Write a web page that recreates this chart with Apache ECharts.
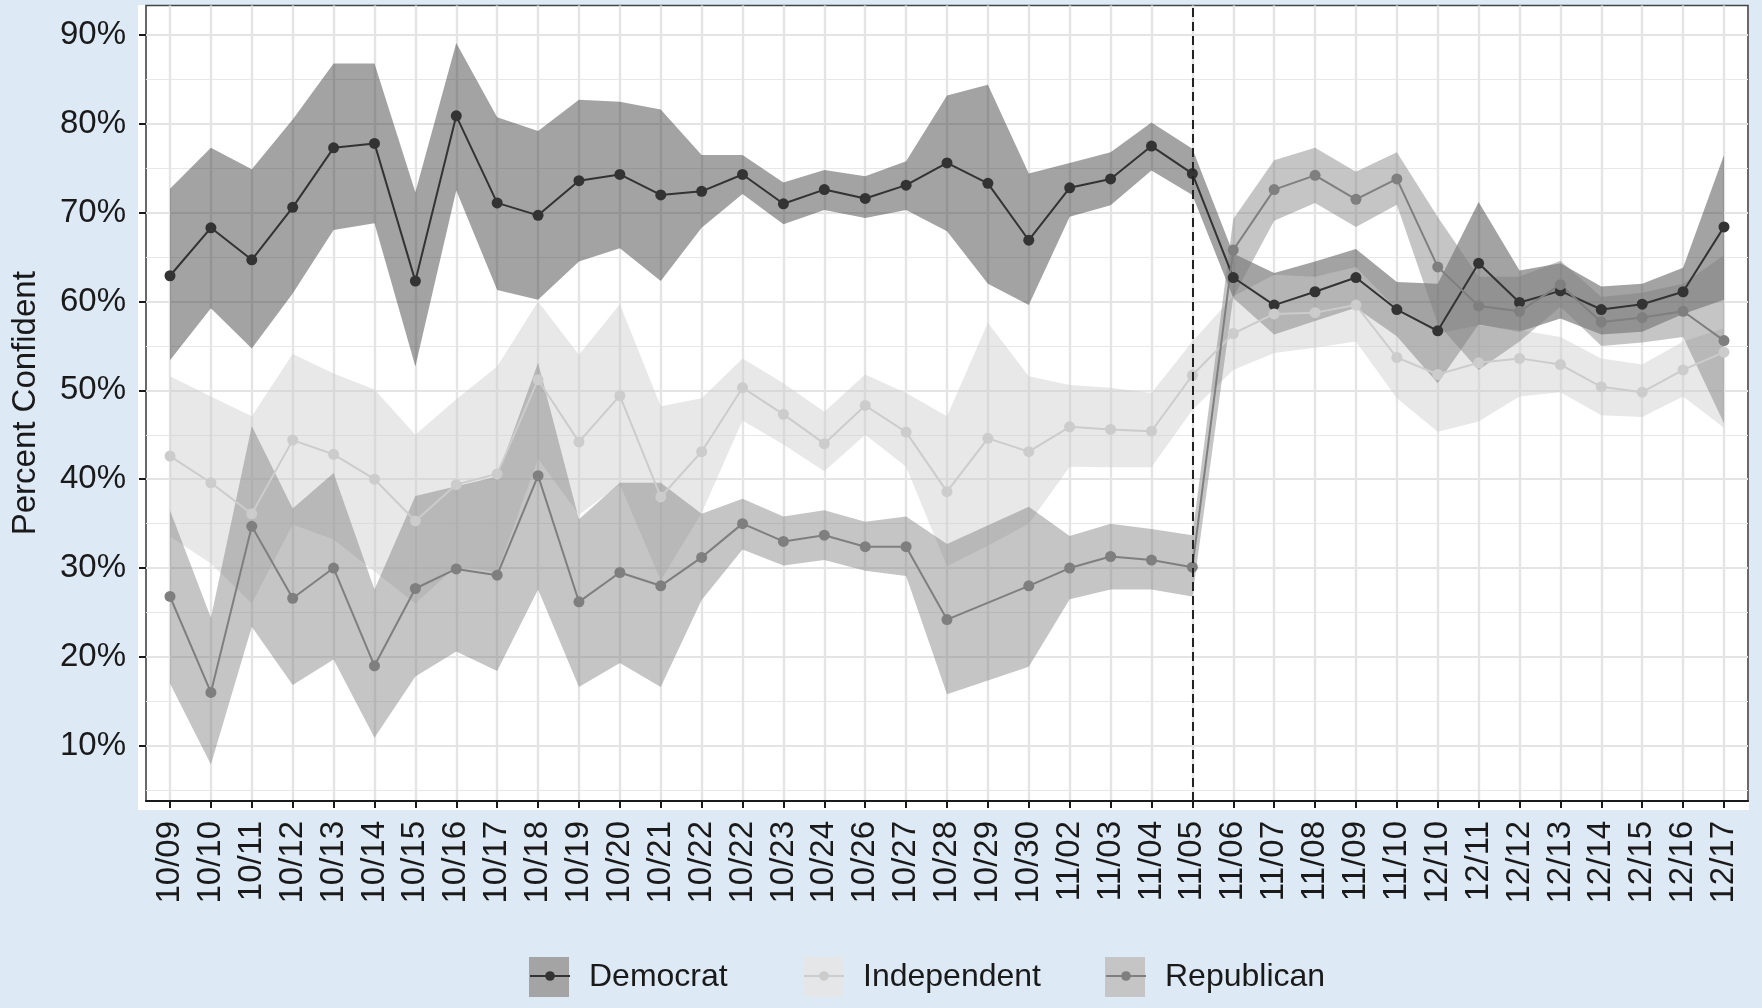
<!DOCTYPE html>
<html>
<head>
<meta charset="utf-8">
<script src="https://cdn.jsdelivr.net/npm/echarts@6/dist/echarts.min.js"></script>
<style>
  html, body { margin: 0; padding: 0; background: #dde9f5; }
  #chart { width: 1762px; height: 1008px; }
</style>
</head>
<body>
<div id="chart"></div>
<script>
// ---------------- data ----------------
const categories = ['10/09','10/10','10/11','10/12','10/13','10/14','10/15','10/16','10/17','10/18',
  '10/19','10/20','10/21','10/22','10/22','10/23','10/24','10/26','10/27','10/28',
  '10/29','10/30','11/02','11/03','11/04','11/05','11/06','11/07','11/08','11/09',
  '11/10','12/10','12/11','12/12','12/13','12/14','12/15','12/16','12/17'];

const democrat = [62.9, 68.3, 64.7, 70.6, 77.3, 77.8, 62.3, 80.9, 71.1, 69.7,
  73.6, 74.3, 72.0, 72.4, 74.3, 71.0, 72.6, 71.6, 73.1, 75.6,
  73.3, 66.9, 72.8, 73.8, 77.5, 74.4, 62.7, 59.6, 61.1, 62.7,
  59.1, 56.7, 64.3, 59.9, 61.2, 59.1, 59.7, 61.1, 68.4];
const democratHigh = [72.7, 77.3, 74.9, 80.5, 86.8, 86.8, 72.3, 89.1, 80.75, 79.2,
  82.7, 82.5, 81.6, 76.5, 76.5, 73.4, 74.8, 74.1, 75.8, 83.2,
  84.4, 74.4, 75.6, 76.8, 80.15, 77.2, 65.4, 63.2, 64.5, 65.9,
  62.2, 62.0, 71.2, 63.5, 64.3, 61.7, 62.0, 63.8, 76.5];
const democratLow = [53.4, 59.25, 54.7, 60.9, 68.05, 68.8, 52.7, 72.5, 61.3, 60.2,
  64.5, 66.0, 62.3, 68.3, 72.1, 68.7, 70.3, 69.4, 70.3, 67.9,
  62.0, 59.6, 69.55, 70.85, 74.75, 72.0, 60.4, 56.3, 57.8, 59.3,
  56.1, 50.8, 57.4, 56.6, 58.1, 56.3, 56.6, 58.6, 60.2];

const independent = [42.6, 39.6, 36.1, 44.4, 42.8, 40.0, 35.3, 39.4, 40.6, 51.2,
  44.2, 49.4, 38.0, 43.1, 50.3, 47.3, 44.0, 48.3, 45.3, 38.6,
  44.6, 43.1, 45.9, 45.6, 45.4, 51.7, 56.4, 58.6, 58.75, 59.6,
  53.7, 51.8, 53.1, 53.6, 52.9, 50.4, 49.8, 52.3, 54.3];
const independentHigh = [51.6, 49.3, 47.1, 54.1, 51.9, 50.1, 45.0, 49.0, 52.7, 60.0,
  54.0, 59.7, 48.2, 49.1, 53.6, 50.8, 47.6, 51.8, 49.7, 47.1,
  57.6, 51.6, 50.6, 50.3, 49.7, 55.5, 60.6, 63.0, 62.8, 63.9,
  59.1, 56.4, 57.3, 56.8, 56.0, 53.6, 52.9, 55.5, 57.0];
const independentLow = [33.55, 30.5, 26.0, 34.9, 33.2, 29.6, 26.0, 30.2, 29.5, 42.3,
  36.0, 39.4, 28.6, 36.2, 46.6, 43.9, 40.9, 45.0, 41.4, 30.2,
  32.5, 35.0, 41.4, 41.35, 41.35, 47.8, 52.3, 54.2, 54.8, 55.5,
  49.1, 45.35, 46.5, 49.3, 49.8, 47.2, 47.0, 49.3, 45.8];

const republican = [26.8, 16.0, 34.7, 26.6, 30.0, 19.0, 27.7, 29.9, 29.2, 40.4,
  26.2, 29.5, 28.0, 31.2, 35.0, 33.0, 33.7, 32.4, 32.4, 24.2,
  null, 28.0, 30.0, 31.3, 30.9, 30.1, 65.8, 72.6, 74.2, 71.5,
  73.8, 63.9, 59.5, 58.9, 61.9, 57.7, 58.2, 58.9, 55.6];
const republicanHigh = [36.5, 24.4, 46.0, 36.7, 40.7, 27.6, 38.1, 39.2, 40.3, 53.1,
  35.5, 39.6, 39.6, 36.1, 37.8, 35.8, 36.5, 35.2, 35.8, 32.7,
  null, 36.9, 33.6, 35.0, 34.4, 33.7, 69.3, 75.9, 77.3, 74.6,
  76.8, 69.5, 62.8, 62.8, 64.6, 60.5, 61.0, 62.0, 65.2];
const republicanLow = [17.0, 7.9, 23.4, 16.85, 19.7, 10.9, 17.8, 20.6, 18.4, 27.6,
  16.6, 19.3, 16.6, 26.4, 32.1, 30.3, 30.9, 29.7, 29.1, 15.8,
  null, 18.9, 26.5, 27.6, 27.6, 26.8, 60.5, 69.1, 71.1, 68.4,
  70.9, 57.5, 52.3, 55.5, 59.4, 55.0, 55.4, 56.0, 46.3];

const yTickValues = [10, 20, 30, 40, 50, 60, 70, 80, 90];
const yMinorValues = [5, 15, 25, 35, 45, 55, 65, 75, 85];
const cutoffLabel = '11/05';
const groupNames = ['Democrat', 'Independent', 'Republican'];

// ---------------- styling ----------------
const FONT = 'Liberation Sans, Arial, Helvetica, sans-serif';
const TEXT = '#1a1a1a';
const lineColors = { Democrat: '#333333', Independent: '#cccccc', Republican: '#7f7f7f' };
const ribbonFill = {
  Democrat: 'rgba(51,51,51,0.45)',
  Independent: 'rgba(204,204,204,0.45)',
  Republican: 'rgba(127,127,127,0.45)'
};
const legendBox = { Democrat: '#a4a4a5', Independent: '#e5e6e7', Republican: '#c5c5c6' };
const legendLeft = { Democrat: 524, Independent: 798, Republican: 1100 };

const xIdx = categories.map((c, i) => i);
const cutIndex = categories.indexOf(cutoffLabel);

function ribbon(name, low, high) {
  return {
    type: 'custom',
    name: name,
    coordinateSystem: 'cartesian2d',
    silent: true,
    itemStyle: { color: legendBox[name] },
    data: xIdx.map(i => [i, low[i], high[i]]),
    encode: { x: 0, y: [1, 2] },
    renderItem: function (params, api) {
      if (params.dataIndex !== 0) return null;
      const up = [], lo = [];
      xIdx.forEach(i => {
        if (low[i] == null || high[i] == null) return;
        up.push(api.coord([i, high[i]]));
        lo.push(api.coord([i, low[i]]));
      });
      return {
        type: 'polygon',
        shape: { points: up.concat(lo.reverse()) },
        style: { fill: ribbonFill[name], stroke: null }
      };
    }
  };
}

function line(name, values, extra) {
  return Object.assign({
    type: 'line',
    name: name + ' line',
    data: xIdx.map(i => [i, values[i]]),
    connectNulls: true,
    symbol: 'circle',
    symbolSize: 11,
    showSymbol: true,
    showAllSymbol: true,
    silent: true,
    lineStyle: { color: lineColors[name], width: 2 },
    itemStyle: { color: lineColors[name] },
    emphasis: { disabled: true }
  }, extra || {});
}

const legends = [];
groupNames.forEach(n => {
  legends.push({
    left: legendLeft[n], top: 952, orient: 'horizontal',
    selectedMode: false,
    icon: 'rect', itemWidth: 40, itemHeight: 40,
    textStyle: { fontSize: 32, fontFamily: FONT, color: TEXT, padding: [0, 0, 0, 15] },
    data: [{ name: n, itemStyle: { color: legendBox[n], borderWidth: 0 } }]
  });
  legends.push({
    left: legendLeft[n], top: 955, orient: 'horizontal',
    selectedMode: false,
    itemWidth: 40, itemHeight: 12,
    textStyle: { fontSize: 32, fontFamily: FONT, color: 'rgba(0,0,0,0)', padding: [0, 0, 0, 15] },
    formatter: s => s.replace(' line', ''),
    data: [n + ' line']
  });
});

const chart = echarts.init(document.getElementById('chart'), null, { renderer: 'canvas' });

const option = {
  animation: false,
  backgroundColor: '#dde9f5',
  graphic: {
    elements: [{
      type: 'rect', silent: true, z: -100,
      shape: { x: 138, y: 5, width: 1611, height: 805 },
      style: { fill: '#ffffff' }
    }]
  },
  grid: {
    left: 146, right: 14, top: 5.5, bottom: 207,
    containLabel: false,
    outerBoundsMode: 'none',
    show: true,
    backgroundColor: 'transparent',
    borderColor: '#444444',
    borderWidth: 1.6
  },
  xAxis: {
    type: 'value',
    min: -0.587, max: 38.587,
    axisLine: { show: true, onZero: false, lineStyle: { color: '#1a1a1a', width: 2 } },
    axisTick: { show: true, length: 7, customValues: xIdx, lineStyle: { color: '#1a1a1a', width: 2 } },
    axisLabel: {
      show: true, customValues: xIdx, rotate: 90, margin: 20,
      fontSize: 33, fontFamily: FONT, color: TEXT, hideOverlap: false,
      formatter: v => categories[Math.round(v)]
    },
    splitLine: { show: true, lineStyle: { color: '#e4e4e4', width: 2.4 } }
  },
  yAxis: [{
    type: 'value',
    min: 3.78, max: 93.32,
    position: 'left',
    name: 'Percent Confident',
    nameLocation: 'middle',
    nameGap: 104,
    nameTextStyle: { fontSize: 33, fontFamily: FONT, color: TEXT },
    axisLine: { show: false, onZero: false },
    axisTick: { show: true, length: 7, customValues: yTickValues, lineStyle: { color: '#1a1a1a', width: 2 } },
    axisLabel: {
      show: true, customValues: yTickValues, margin: 20,
      fontSize: 33, fontFamily: FONT, color: TEXT,
      formatter: v => v + '%'
    },
    splitLine: { show: true, lineStyle: { color: '#e4e4e4', width: 2.2 } }
  }, {
    type: 'value',
    min: 3.78, max: 93.32,
    position: 'left',
    axisLine: { show: false, onZero: false },
    axisTick: { show: false, customValues: yMinorValues },
    axisLabel: { show: false },
    splitLine: { show: true, lineStyle: { color: '#e8e8e8', width: 1.2 } }
  }],
  legend: legends,
  series: [
    ribbon('Democrat', democratLow, democratHigh),
    ribbon('Independent', independentLow, independentHigh),
    ribbon('Republican', republicanLow, republicanHigh),
    line('Democrat', democrat, {
      markLine: {
        silent: true, symbol: ['none', 'none'],
        label: { show: false },
        lineStyle: { color: '#222222', type: [9, 5], width: 2 },
        data: [{ xAxis: cutIndex }]
      }
    }),
    line('Independent', independent),
    line('Republican', republican)
  ]
};

chart.setOption(option);
</script>
</body>
</html>
